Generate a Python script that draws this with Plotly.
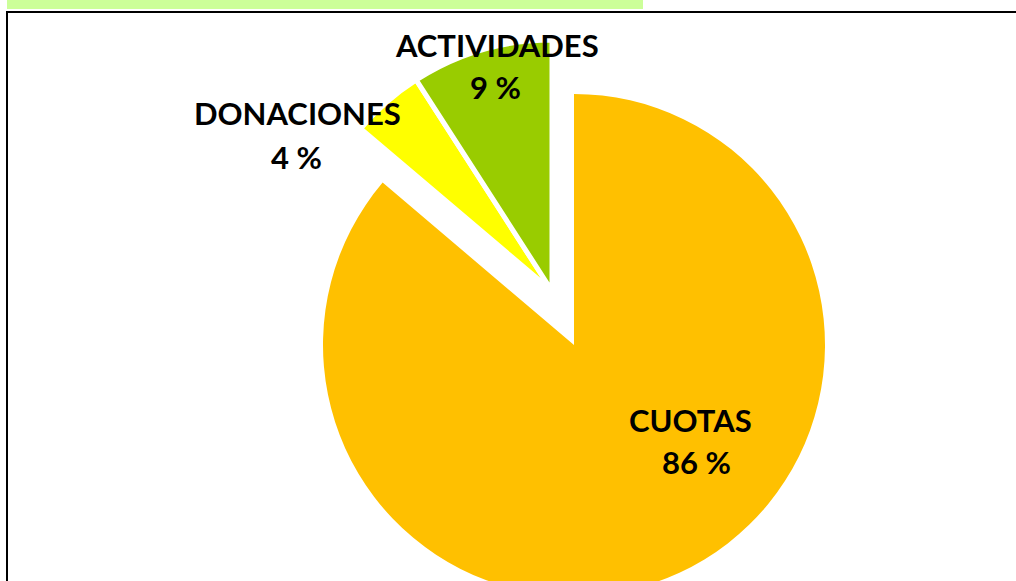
import plotly.graph_objects as go

# ---- data ----
categories = ["CUOTAS", "DONACIONES", "ACTIVIDADES"]
values = [86.2, 4.7, 9.1]
pct_text = ["86 %", "4 %", "9 %"]
colors = ["#FFC000", "#FFFF00", "#99CC00"]
exploded = [True, False, False]   # CUOTAS slice is pulled out

# ---- layout constants ----
W, H = 1016, 600
R = 251
center_main = (552, 291)      # pie centre for the un-exploded slices (px)
center_pulled = (574, 345)    # pie centre for the exploded slice (px)

def domain_for(cx, cy, r):
    return dict(x=[(cx - r) / W, (cx + r) / W],
                y=[(H - (cy + r)) / H, (H - (cy - r)) / H])

transparent = "rgba(0,0,0,0)"

fig = go.Figure()
# exploded slice(s)
fig.add_trace(go.Pie(
    labels=categories, values=values, sort=False, direction="clockwise", rotation=0,
    marker=dict(colors=[c if e else transparent for c, e in zip(colors, exploded)],
                line=dict(color="white", width=0)),
    textinfo="none", hoverinfo="label+percent", showlegend=False,
    domain=domain_for(*center_pulled, R),
))
# remaining slices
fig.add_trace(go.Pie(
    labels=categories, values=values, sort=False, direction="clockwise", rotation=0,
    marker=dict(colors=[transparent if e else c for c, e in zip(colors, exploded)],
                line=dict(color="white", width=[0 if e else 5 for e in exploded])),
    textinfo="none", hoverinfo="label+percent", showlegend=False,
    domain=domain_for(*center_main, R),
))

# label placement (px, centre of each line)
label_pos = {
    "CUOTAS": ((690, 420), (696, 462)),
    "DONACIONES": ((297, 113), (296, 157)),
    "ACTIVIDADES": ((497, 45), (495, 87)),
}
annotations = []
for cat, pct in zip(categories, pct_text):
    (x1, y1), (x2, y2) = label_pos[cat]
    for txt, x, y in ((cat, x1, y1), (pct, x2, y2)):
        annotations.append(dict(
            text=f"<b>{txt}</b>", x=x / W, y=(H - y) / H, xref="paper", yref="paper",
            xanchor="center", yanchor="middle", showarrow=False,
            font=dict(family="Lato", size=31, color="black"),
        ))

shapes = [
    # light green strip at the top
    dict(type="rect", xref="paper", yref="paper", x0=7 / W, x1=643 / W,
         y0=(H - 9) / H, y1=1.0, fillcolor="#CCFF99", line=dict(width=0), layer="below"),
    # black chart frame
    dict(type="rect", xref="paper", yref="paper", x0=7 / W, x1=1.05,
         y0=-0.05, y1=(H - 12) / H, line=dict(color="black", width=2),
         fillcolor="rgba(0,0,0,0)", layer="above"),
]

fig.update_layout(
    width=W, height=H, margin=dict(l=0, r=0, t=0, b=0),
    paper_bgcolor="white", plot_bgcolor="white",
    annotations=annotations, shapes=shapes, showlegend=False,
)

fig.write_html(
    "out.html",
    config={"displayModeBar": False},
    post_script="document.body.style.margin='0';document.body.style.overflow='hidden';"
                "document.documentElement.style.overflow='hidden';",
)
